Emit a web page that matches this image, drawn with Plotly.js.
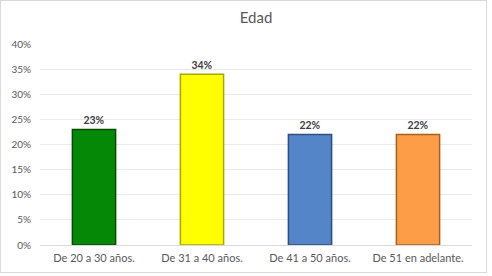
<!DOCTYPE html>
<html>
<head>
<meta charset="utf-8">
<script src="https://cdn.plot.ly/plotly-3.0.1.min.js"></script>
<style>
html,body{margin:0;padding:0;background:#fff;}
#chart{position:absolute;left:0;top:0;width:485px;height:271px;border:1px solid #d9d9d9;}
</style>
</head>
<body>
<div id="chart"></div>
<script>
const categories = ["De 20 a 30 años.", "De 31 a 40 años.", "De 41 a 50 años.", "De 51 en adelante."];
const values = [0.23, 0.34, 0.22, 0.22];
const barColors = ["#058805", "#ffff00", "#5585c9", "#fd9d48"];
const edgeColors = ["#034d03", "#a8a800", "#2c4f80", "#a8601f"];
const yTicks = [0, 0.05, 0.10, 0.15, 0.20, 0.25, 0.30, 0.35, 0.40];

const trace = {
  type: "bar",
  x: categories,
  y: values,
  width: 0.4,
  marker: {color: barColors, line: {color: edgeColors, width: 1.5}},
  texttemplate: "%{y:.0%}",
  textposition: "outside",
  cliponaxis: false,
  textfont: {family: "Lato, 'DejaVu Sans', sans-serif", size: 10.5, color: "#404040", weight: "bold"},
  hoverinfo: "none"
};

const layout = {
  width: 485, height: 271,
  margin: {l: 39, r: 14, t: 43, b: 27, pad: 0},
  paper_bgcolor: "#ffffff",
  plot_bgcolor: "#ffffff",
  showlegend: false,
  font: {family: "Lato, 'DejaVu Sans', sans-serif", color: "#595959", size: 10},
  title: {text: "Edad", x: 0.5, xref: "paper", xanchor: "center", y: 0.94, yref: "container", yanchor: "middle",
          font: {family: "Lato, 'DejaVu Sans', sans-serif", size: 15, color: "#595959"}},
  xaxis: {
    type: "category",
    showgrid: false,
    showline: true, linecolor: "#d9d9d9", linewidth: 1,
    ticks: "", ticklabelstandoff: 3, tickfont: {size: 11, color: "#595959"},
    fixedrange: true
  },
  yaxis: {
    range: [0, 0.40],
    tickvals: yTicks,
    tickformat: ".0%",
    showgrid: true, gridcolor: "#eaeaea", gridwidth: 1,
    zeroline: false, showline: false,
    ticks: "", ticklabelstandoff: 8,
    tickfont: {size: 10, color: "#595959"},
    fixedrange: true
  },
  bargap: 0.6
};

Plotly.newPlot("chart", [trace], layout, {staticPlot: true, displayModeBar: false});
</script>
</body>
</html>
